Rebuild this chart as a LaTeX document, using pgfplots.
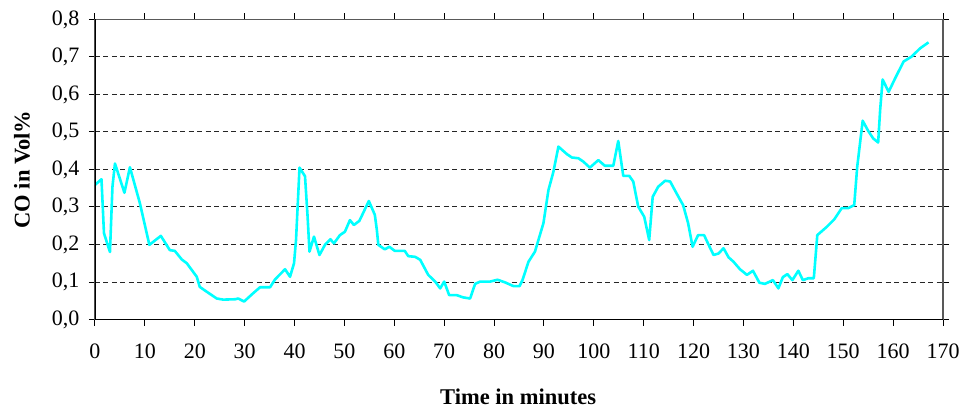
\documentclass[border=0pt]{standalone}
\usepackage{fontspec}
\setmainfont{Liberation Serif}
\usepackage{pgfplots}
\pgfplotsset{compat=1.18}
\definecolor{aqua}{RGB}{0,255,255}
\pgfplotstableread{
t v
0 0.359
1.3 0.374
1.8 0.23
3 0.18
3.5 0.354
4 0.416
5.9 0.338
7 0.406
9 0.31
10.9 0.199
13.2 0.223
15 0.185
16 0.183
17.4 0.16
18.4 0.15
20.4 0.114
21 0.087
22.4 0.074
24.4 0.056
25.7 0.053
28.1 0.054
28.7 0.056
29.9 0.048
31.7 0.07
33.1 0.086
35.1 0.086
36.1 0.107
38.1 0.134
39.1 0.114
39.9 0.15
40.3 0.212
41 0.405
42.1 0.382
42.6 0.279
43 0.181
43.9 0.221
45 0.172
46.1 0.199
47.2 0.214
47.9 0.203
49.1 0.225
50.1 0.234
51.1 0.265
51.9 0.252
53 0.263
54.9 0.316
56.1 0.279
56.5 0.239
56.8 0.199
58.1 0.187
59 0.194
60.1 0.183
62.1 0.183
62.8 0.169
64.2 0.167
65.2 0.159
66.8 0.119
68.2 0.101
69.2 0.083
70 0.101
71 0.065
72.5 0.065
73.8 0.059
75.2 0.056
76.2 0.095
77.2 0.101
79.2 0.101
80.7 0.106
82.2 0.099
83.9 0.089
85.1 0.089
85.7 0.105
86.9 0.154
88.2 0.181
89.9 0.257
90.9 0.345
91.9 0.394
92.9 0.461
94.6 0.441
95.6 0.432
96.9 0.43
97.9 0.421
99.2 0.405
100.9 0.425
102.2 0.41
103.9 0.41
104.9 0.476
105.9 0.383
107.1 0.383
107.9 0.368
108.9 0.301
110.1 0.274
111.1 0.212
111.8 0.327
112.9 0.354
114.3 0.37
115.3 0.368
116.6 0.336
117.9 0.305
118.9 0.257
119.8 0.194
120.9 0.225
122.1 0.225
123.2 0.194
124 0.172
125 0.176
126 0.19
127 0.166
128 0.154
129.3 0.134
130.7 0.119
131.9 0.13
133.2 0.098
134.3 0.095
135.9 0.105
137 0.083
137.9 0.113
138.8 0.121
139.8 0.105
141 0.13
141.9 0.105
143 0.11
144.1 0.11
144.8 0.225
146.7 0.247
148.2 0.267
149.7 0.297
151 0.297
152.2 0.305
152.8 0.407
153.9 0.53
155 0.503
156 0.483
157 0.472
157.4 0.559
157.9 0.64
159.1 0.607
160.4 0.643
162.1 0.688
163.7 0.701
165.4 0.723
167.1 0.739
}\codata
\begin{document}
\begin{tikzpicture}
\begin{axis}[
  scale only axis, width=848pt, height=300pt,
  xmin=0, xmax=170, ymin=0, ymax=0.8,
  xtick={0,10,20,30,40,50,60,70,80,90,100,110,120,130,140,150,160,170},
  ytick={0,0.1,0.2,0.3,0.4,0.5,0.6,0.7,0.8},
  tick align=outside, major tick length=6pt,
  tick style={black, line width=1pt},
  axis line style={draw=black!65, line width=1.2pt},
  ymajorgrids,
  major grid style={black!85, line width=1pt, dash pattern=on 5pt off 3.5pt},
  /pgf/number format/assume math mode=true,
  yticklabel style={xshift=-6pt,
    /pgf/number format/fixed, /pgf/number format/fixed zerofill,
    /pgf/number format/precision=1, /pgf/number format/use comma},
  xticklabel style={yshift=-15pt},
  tick label style={font=\fontsize{22}{26}\selectfont},
  label style={font=\fontsize{22.5}{26}\selectfont\bfseries},
  xlabel={Time in minutes},
  ylabel={CO in Vol\%},
  xlabel style={at={(axis description cs:0.499,-0.258)}, anchor=center},
  ylabel style={at={(axis description cs:-0.0861,0.5)}, anchor=center},
]
\addplot[aqua, line width=2.6pt, line join=round] table[x=t, y=v] {\codata};
\draw[black, line width=1.2pt] (rel axis cs:0,1) -- (rel axis cs:0,0) -- (rel axis cs:1,0);
\end{axis}
\path (current axis.south west) ++(-95pt,-92.5pt) coordinate (bl);
\path (current axis.north east) ++(23pt,19.5pt) coordinate (tr);
\path (bl) rectangle (tr);
\end{tikzpicture}
\end{document}
